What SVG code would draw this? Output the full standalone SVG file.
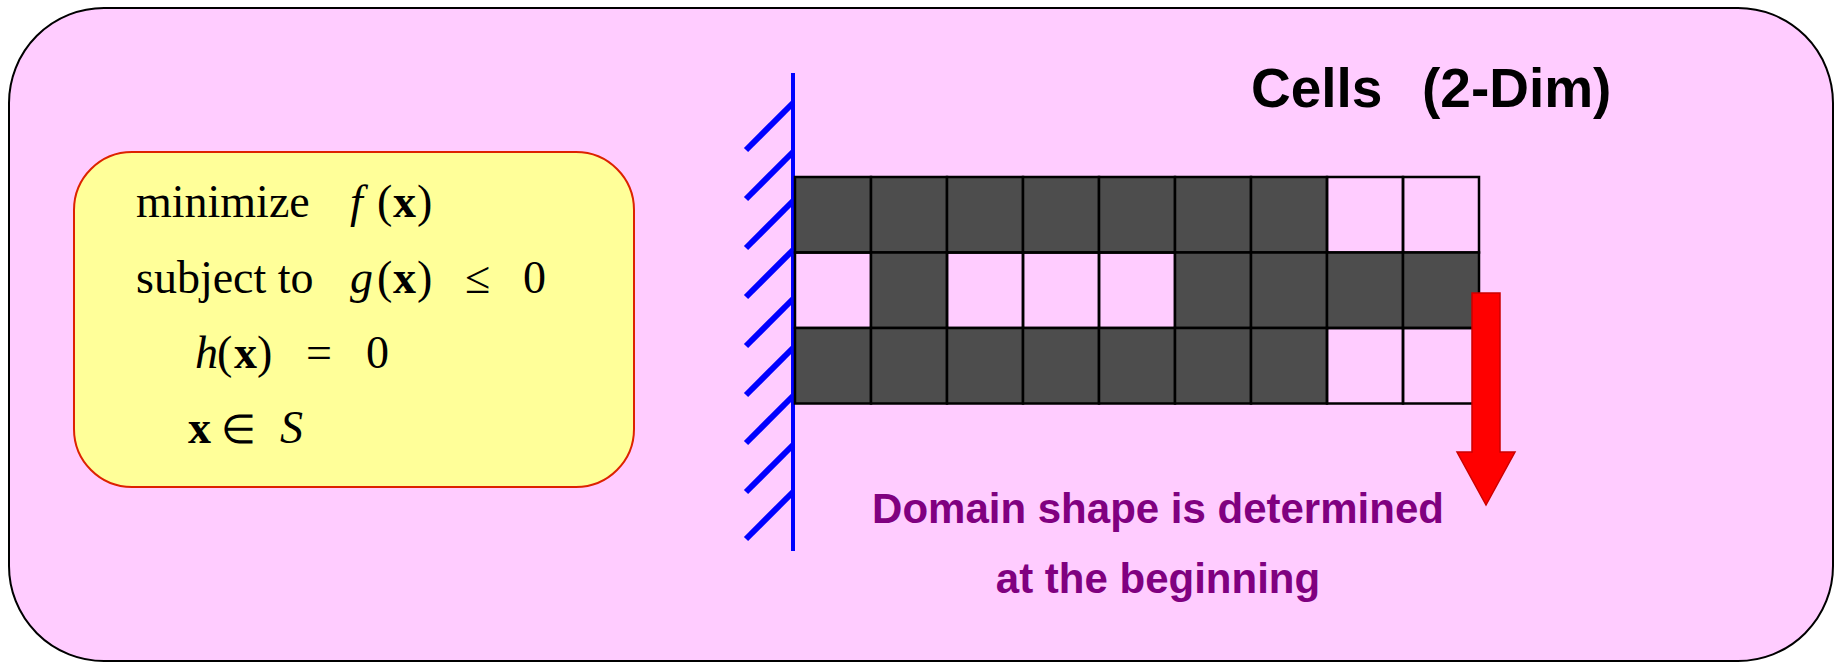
<svg xmlns="http://www.w3.org/2000/svg" width="1837" height="662" viewBox="0 0 1837 662">
<style>
.math{font-family:"Liberation Serif","Times New Roman",serif;font-size:46px;fill:#000}
.it{font-style:italic}
.bd{font-weight:bold}
.sm{font-size:40px}
.dark{fill:#4d4d4d;stroke:#000;stroke-width:2.5}
.light{fill:none;stroke:#000;stroke-width:2.5}
.hatch{stroke:#0000ff;stroke-width:6;stroke-linecap:butt}
.title{font-family:"Liberation Sans",Arial,sans-serif;font-weight:bold;font-size:55px;fill:#000}
.note{font-family:"Liberation Sans",Arial,sans-serif;font-weight:bold;font-size:42px;fill:#800080;text-anchor:middle}
</style>
<rect x="0" y="0" width="1837" height="662" fill="#ffffff"/>
<g id="frame">
<rect x="9" y="8" width="1824" height="653" rx="95" ry="95" fill="#ffccff" stroke="#000" stroke-width="2"/>
</g>
<g id="problem">
<rect x="74" y="152" width="560" height="335" rx="58" ry="58" fill="#ffff99" stroke="#dd2200" stroke-width="2"/>
<text class="math"><tspan x="136" y="217">minimize</tspan><tspan x="350" class="it">f</tspan><tspan x="377">(</tspan><tspan x="393" class="bd">x</tspan><tspan x="417">)</tspan></text>
<text class="math"><tspan x="136" y="293">subject to</tspan><tspan x="350" class="it">g</tspan><tspan x="377">(</tspan><tspan x="393" class="bd">x</tspan><tspan x="417">)</tspan><tspan x="465">≤</tspan><tspan x="523">0</tspan></text>
<text class="math"><tspan x="195" y="368" class="it">h</tspan><tspan x="217">(</tspan><tspan x="234" class="bd">x</tspan><tspan x="257">)</tspan><tspan x="306">=</tspan><tspan x="366">0</tspan></text>
<text class="math"><tspan x="188" y="443" class="bd">x</tspan><tspan x="221" class="sm">∈</tspan><tspan x="280" class="it">S</tspan></text>
</g>
<g id="wall">
<line x1="793" y1="73" x2="793" y2="551" stroke="#0000ff" stroke-width="4"/>
<line class="hatch" x1="746" y1="150" x2="793" y2="103"/>
<line class="hatch" x1="746" y1="199" x2="793" y2="152"/>
<line class="hatch" x1="746" y1="248" x2="793" y2="201"/>
<line class="hatch" x1="746" y1="297" x2="793" y2="250"/>
<line class="hatch" x1="746" y1="346" x2="793" y2="299"/>
<line class="hatch" x1="746" y1="395" x2="793" y2="348"/>
<line class="hatch" x1="746" y1="443" x2="793" y2="396"/>
<line class="hatch" x1="746" y1="492" x2="793" y2="445"/>
<line class="hatch" x1="746" y1="539" x2="793" y2="492"/>
</g>
<g id="cells">
<rect class="dark" x="795" y="177" width="76" height="75.5"/>
<rect class="dark" x="871" y="177" width="76" height="75.5"/>
<rect class="dark" x="947" y="177" width="76" height="75.5"/>
<rect class="dark" x="1023" y="177" width="76" height="75.5"/>
<rect class="dark" x="1099" y="177" width="76" height="75.5"/>
<rect class="dark" x="1175" y="177" width="76" height="75.5"/>
<rect class="dark" x="1251" y="177" width="76" height="75.5"/>
<rect class="light" x="1327" y="177" width="76" height="75.5"/>
<rect class="light" x="1403" y="177" width="76" height="75.5"/>
<rect class="light" x="795" y="252.5" width="76" height="75.5"/>
<rect class="dark" x="871" y="252.5" width="76" height="75.5"/>
<rect class="light" x="947" y="252.5" width="76" height="75.5"/>
<rect class="light" x="1023" y="252.5" width="76" height="75.5"/>
<rect class="light" x="1099" y="252.5" width="76" height="75.5"/>
<rect class="dark" x="1175" y="252.5" width="76" height="75.5"/>
<rect class="dark" x="1251" y="252.5" width="76" height="75.5"/>
<rect class="dark" x="1327" y="252.5" width="76" height="75.5"/>
<rect class="dark" x="1403" y="252.5" width="76" height="75.5"/>
<rect class="dark" x="795" y="328" width="76" height="75.5"/>
<rect class="dark" x="871" y="328" width="76" height="75.5"/>
<rect class="dark" x="947" y="328" width="76" height="75.5"/>
<rect class="dark" x="1023" y="328" width="76" height="75.5"/>
<rect class="dark" x="1099" y="328" width="76" height="75.5"/>
<rect class="dark" x="1175" y="328" width="76" height="75.5"/>
<rect class="dark" x="1251" y="328" width="76" height="75.5"/>
<rect class="light" x="1327" y="328" width="76" height="75.5"/>
<rect class="light" x="1403" y="328" width="76" height="75.5"/>
</g>
<g id="arrow">
<polygon points="1472,293 1500,293 1500,452 1515,452 1486,505 1457,452 1472,452" fill="#ff0000" stroke="#cc0000" stroke-width="1.5"/>
</g>
<g id="labels">
<text class="title"><tspan x="1251" y="107">Cells</tspan><tspan x="1422">(2-Dim)</tspan></text>
<text class="note" x="1158" y="523">Domain shape is determined</text>
<text class="note" x="1158" y="593">at the beginning</text>
</g>
</svg>
